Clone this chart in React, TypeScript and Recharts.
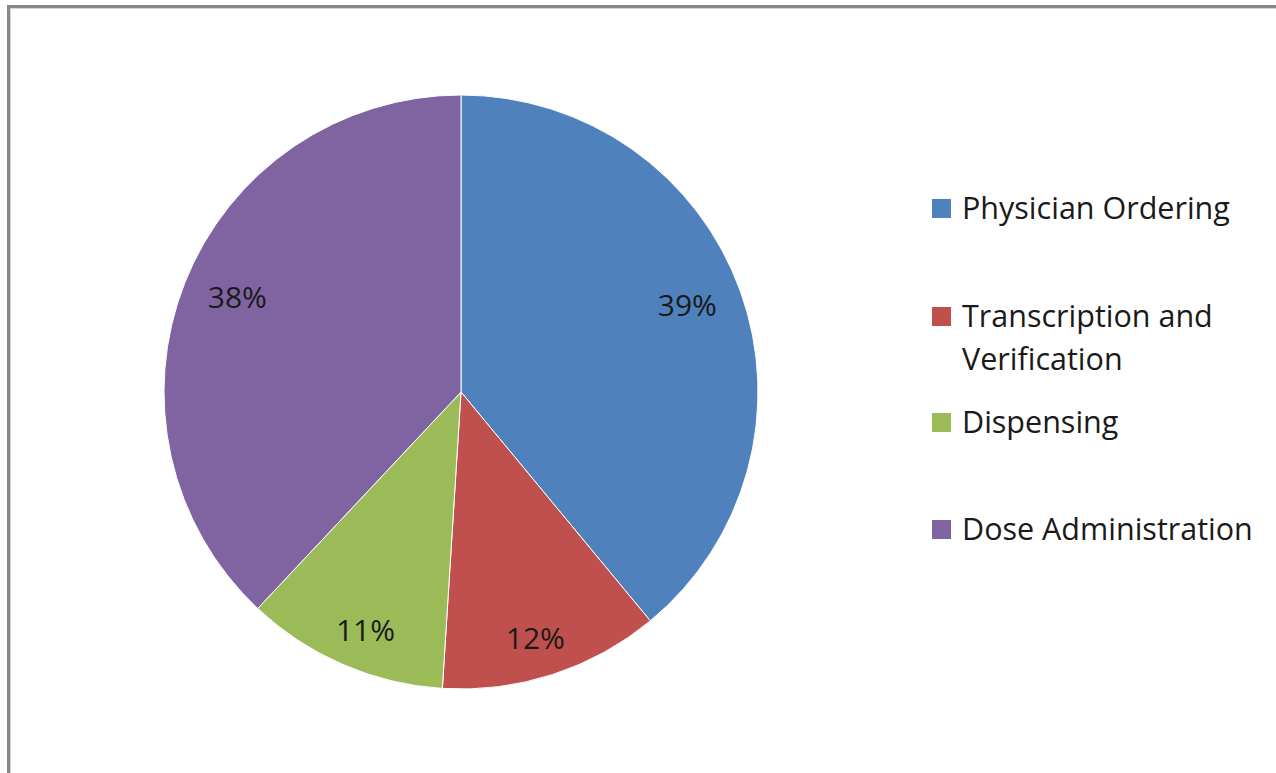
import { PieChart, Pie, Cell, Legend } from 'recharts'

const categories = ['Physician Ordering', 'Transcription and Verification', 'Dispensing', 'Dose Administration']
const shares = [39, 12, 11, 38]
const colors = ['#4F81BD', '#C0504D', '#9BBB59', '#8064A2']

const data = categories.map((name, i) => ({ name, value: shares[i] }))

const FONT = '"Open Sans", "Noto Sans", sans-serif'
const RAD = Math.PI / 180

// labels sit a little further out vertically than horizontally, like the spreadsheet's best-fit
const renderLabel = (props: any) => {
  const { cx, cy, midAngle, outerRadius, value } = props
  const x = cx + outerRadius * 0.81 * Math.cos(-midAngle * RAD)
  const y = cy + outerRadius * 0.87 * Math.sin(-midAngle * RAD)
  return (
    <text
      x={x}
      y={y}
      fill="#1a1a1a"
      fontSize={30}
      fontFamily={FONT}
      textAnchor="middle"
      dominantBaseline="central"
    >
      {`${value}%`}
    </text>
  )
}

// spacing between legend entries, mimicking the spreadsheet layout
const legendGaps = [0, 65, 20, 64]

const LegendContent = () => (
  <div style={{ fontFamily: FONT, fontSize: 30.5, lineHeight: '43px', color: '#1a1a1a' }}>
    {categories.map((name, i) => (
      <div key={name} style={{ display: 'flex', alignItems: 'flex-start', marginTop: legendGaps[i] }}>
        <div
          style={{
            width: 19,
            height: 19,
            background: colors[i],
            marginTop: 13,
            marginRight: 11,
            flex: 'none',
          }}
        />
        <div style={{ width: 320 }}>{name}</div>
      </div>
    ))}
  </div>
)

export default function App() {
  return (
    <div
      style={{
        position: 'fixed',
        left: 0,
        top: 0,
        width: 1276,
        height: 773,
        overflow: 'hidden',
        background: '#fff',
      }}
    >
      <div
        style={{
          position: 'absolute',
          left: 7,
          top: 5,
          width: 1300,
          height: 820,
          border: '3px solid #878787',
          boxShadow: 'inset 1px 1px 0 #d4d4d4',
        }}
      />
      <div style={{ position: 'absolute', left: 0, top: 0 }}>
        <PieChart width={1276} height={773}>
          <Pie
            data={data}
            dataKey="value"
            nameKey="name"
            cx={456}
            cy={387}
            outerRadius={297}
            startAngle={90}
            endAngle={-270}
            stroke="#ffffff"
            strokeWidth={1}
            label={renderLabel}
            labelLine={false}
            isAnimationActive={false}
          >
            {data.map((d, i) => (
              <Cell key={d.name} fill={colors[i]} />
            ))}
          </Pie>
          <Legend
            layout="vertical"
            content={<LegendContent />}
            wrapperStyle={{ left: 932, top: 186, width: 340 }}
          />
        </PieChart>
      </div>
    </div>
  )
}
